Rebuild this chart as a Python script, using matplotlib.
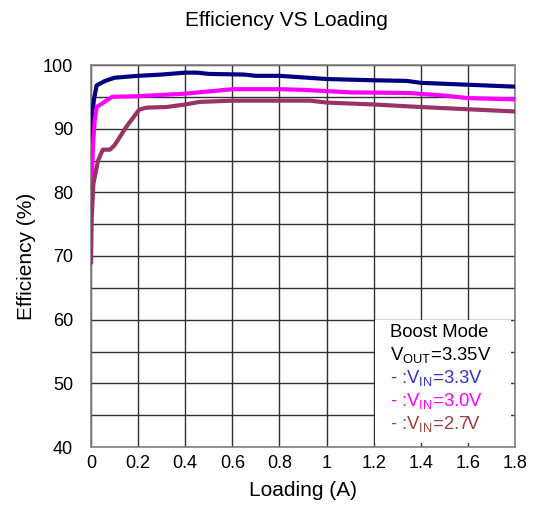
import matplotlib
matplotlib.use("Agg")
import matplotlib.pyplot as plt
from matplotlib.patches import Rectangle
from matplotlib.ticker import MultipleLocator

plt.rcParams['font.family'] = ['Liberation Sans', 'DejaVu Sans']
plt.rcParams['mathtext.fontset'] = 'custom'
plt.rcParams['mathtext.rm'] = 'Liberation Sans'
plt.rcParams['mathtext.it'] = 'Liberation Sans'

# Loading (A) / efficiency (%)
load_33 = [0, 0.005, 0.012, 0.024, 0.06, 0.1, 0.2, 0.3, 0.4, 0.45, 0.5, 0.65,
           0.7, 0.8, 1.0, 1.2, 1.34, 1.4, 1.6, 1.8]
eff_33 = [87.0, 91.5, 94.5, 96.8, 97.5, 98.0, 98.3, 98.5, 98.8, 98.8, 98.6, 98.5,
          98.3, 98.3, 97.8, 97.6, 97.5, 97.2, 96.9, 96.6]

load_30 = [0, 0.004, 0.008, 0.015, 0.024, 0.045, 0.09, 0.2, 0.4, 0.6, 0.8, 0.9,
           1.0, 1.1, 1.35, 1.5, 1.6, 1.8]
eff_30 = [76.6, 82.0, 87.0, 91.0, 93.4, 93.9, 95.0, 95.1, 95.5, 96.2, 96.2, 96.1,
          95.9, 95.7, 95.6, 95.2, 94.8, 94.6]

load_27 = [0, 0.003, 0.01, 0.03, 0.05, 0.08, 0.1, 0.15, 0.205, 0.235, 0.32, 0.4,
           0.46, 0.6, 0.93, 1.0, 1.2, 1.4, 1.6, 1.8]
eff_27 = [68.7, 76.0, 81.3, 85.0, 86.7, 86.7, 87.4, 90.3, 93.0, 93.3, 93.4, 93.8,
          94.2, 94.4, 94.4, 94.1, 93.8, 93.4, 93.05, 92.7]

x_ticks = [0, 0.2, 0.4, 0.6, 0.8, 1.0, 1.2, 1.4, 1.6, 1.8]
x_labels = ['0', '0.2', '0.4', '0.6', '0.8', '1', '1.2', '1.4', '1.6', '1.8']
y_ticks = [40, 50, 60, 70, 80, 90, 100]

note_lines = ['Boost Mode', r'V$_{\mathrm{OUT}}$=3.35V', r'- :V$_{\mathrm{IN}}$=3.3V',
              r'- :V$_{\mathrm{IN}}$=3.0V', r'- :V$_{\mathrm{IN}}$=2.7V']
note_colors = ['black', 'black', '#3333cc', '#ff00ff', '#a0403c']

fig = plt.figure(figsize=(5.36, 5.05), dpi=100)
ax = fig.add_axes([91 / 536, 1 - 447 / 505, 424 / 536, 382 / 505])

ax.plot(load_33, eff_33, color='#000080', lw=3.0, solid_capstyle='butt', zorder=3)
ax.plot(load_30, eff_30, color='#ff00ff', lw=3.0, solid_capstyle='butt', zorder=3)
ax.plot(load_27, eff_27, color='#993366', lw=3.0, solid_capstyle='butt', zorder=3)

ax.set_xlim(0, 1.8)
ax.set_ylim(40, 100)
ax.set_xticks(x_ticks)
ax.set_xticklabels(x_labels)
ax.set_yticks(y_ticks)
ax.xaxis.set_minor_locator(MultipleLocator(0.2))
ax.yaxis.set_minor_locator(MultipleLocator(5))
ax.grid(True, which='both', color='#303030', lw=1.0)
ax.set_axisbelow(True)
ax.tick_params(which='both', length=0, labelsize=13)
ax.tick_params(axis='y', pad=13)
ax.tick_params(axis='x', pad=6)
for s in ax.spines.values():
    s.set_color('#808080')
    s.set_linewidth(1.2)

# white note box over the grid, leaving short stubs at the edges
ax.add_patch(Rectangle((1.205, 40.6), 0.578, 19.3, facecolor='white',
                       edgecolor='none', zorder=1))
y0 = 0.287
for i, (t, c) in enumerate(zip(note_lines, note_colors)):
    ax.text(0.705, y0 - i * 0.06, t, color=c, fontsize=13.3, transform=ax.transAxes,
            va='baseline', ha='left', zorder=4)

ax.set_xlabel('Loading (A)', fontsize=15, labelpad=6)
ax.set_ylabel('Efficiency (%)', fontsize=15, labelpad=5)
fig.text(0.535, 1 - 20 / 505, 'Efficiency VS Loading', fontsize=15,
         ha='center', va='center')

fig.savefig('out.png', dpi=100)
